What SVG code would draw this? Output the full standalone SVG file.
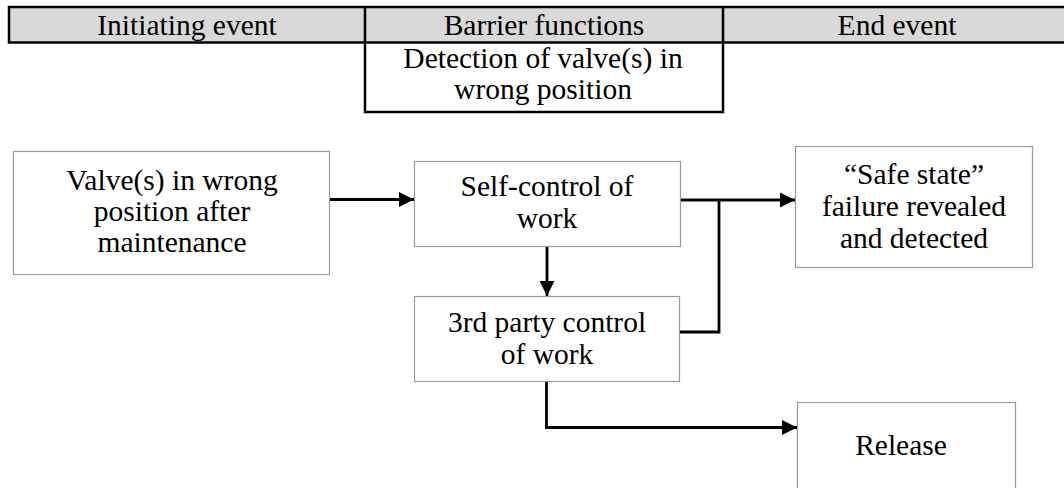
<svg xmlns="http://www.w3.org/2000/svg" width="1064" height="488" viewBox="0 0 1064 488">
  <style>
    text { font-family: "Liberation Serif", "Times New Roman", serif; font-size: 29.5px; fill: #000; text-anchor: middle; }
    .hdr { fill: #d9d9d9; stroke: none; }
    .rule { stroke: #000; stroke-width: 2.5; fill: none; }
    .box { fill: #fff; stroke: #9a9a9a; stroke-width: 1.2; }
    .conn { stroke: #000; stroke-width: 2.8; fill: none; }
  </style>
  <defs>
    <marker id="arrow" markerUnits="userSpaceOnUse" markerWidth="16" markerHeight="16" refX="15" refY="8" orient="auto">
      <path d="M0,0.5 L15,8 L0,15.5 Z" fill="#000"/>
    </marker>
  </defs>

  <rect width="1064" height="488" fill="#fff"/>

  <!-- column header band -->
  <g id="header">
    <rect class="hdr" x="9" y="7" width="1070" height="35.5"/>
    <path class="rule" d="M9,7 H1070 M9,42.5 H1070 M9,5.8 V43.7 M365,7 V42.5 M723,7 V42.5"/>
    <text x="187" y="35">Initiating event</text>
    <text x="544" y="35">Barrier functions</text>
    <text x="897" y="35">End event</text>
  </g>

  <!-- barrier function description -->
  <g id="barrier-detection">
    <path class="rule" d="M365,42.5 V112 H723 V42.5"/>
    <text x="543" y="68">Detection of valve(s) in</text>
    <text x="543" y="99">wrong position</text>
  </g>

  <g id="initiating-event">
    <rect class="box" x="13.5" y="151.5" width="316" height="123"/>
    <text x="172" y="190">Valve(s) in wrong</text>
    <text x="172" y="221">position after</text>
    <text x="172" y="252">maintenance</text>
  </g>

  <g id="self-control">
    <rect class="box" x="414.5" y="161.5" width="266" height="85"/>
    <text x="547" y="196">Self-control of</text>
    <text x="547" y="228">work</text>
  </g>

  <g id="third-party-control">
    <rect class="box" x="414.5" y="296.5" width="265" height="85"/>
    <text x="547" y="332">3rd party control</text>
    <text x="547" y="364">of work</text>
  </g>

  <g id="safe-state">
    <rect class="box" x="795.5" y="146.5" width="237" height="121"/>
    <text x="914" y="184">“Safe state”</text>
    <text x="914" y="216">failure revealed</text>
    <text x="914" y="248">and detected</text>
  </g>

  <g id="release">
    <rect class="box" x="797.5" y="402.5" width="218" height="90"/>
    <text x="901" y="455">Release</text>
  </g>

  <!-- connectors -->
  <g id="connectors">
    <path class="conn" d="M330,199.5 H414" marker-end="url(#arrow)"/>
    <path class="conn" d="M547,247 V296" marker-end="url(#arrow)"/>
    <path class="conn" d="M681,200 H795" marker-end="url(#arrow)"/>
    <path class="conn" d="M719,200 V332 H680"/>
    <path class="conn" d="M546.5,382 V427.5 H797" marker-end="url(#arrow)"/>
  </g>
</svg>
